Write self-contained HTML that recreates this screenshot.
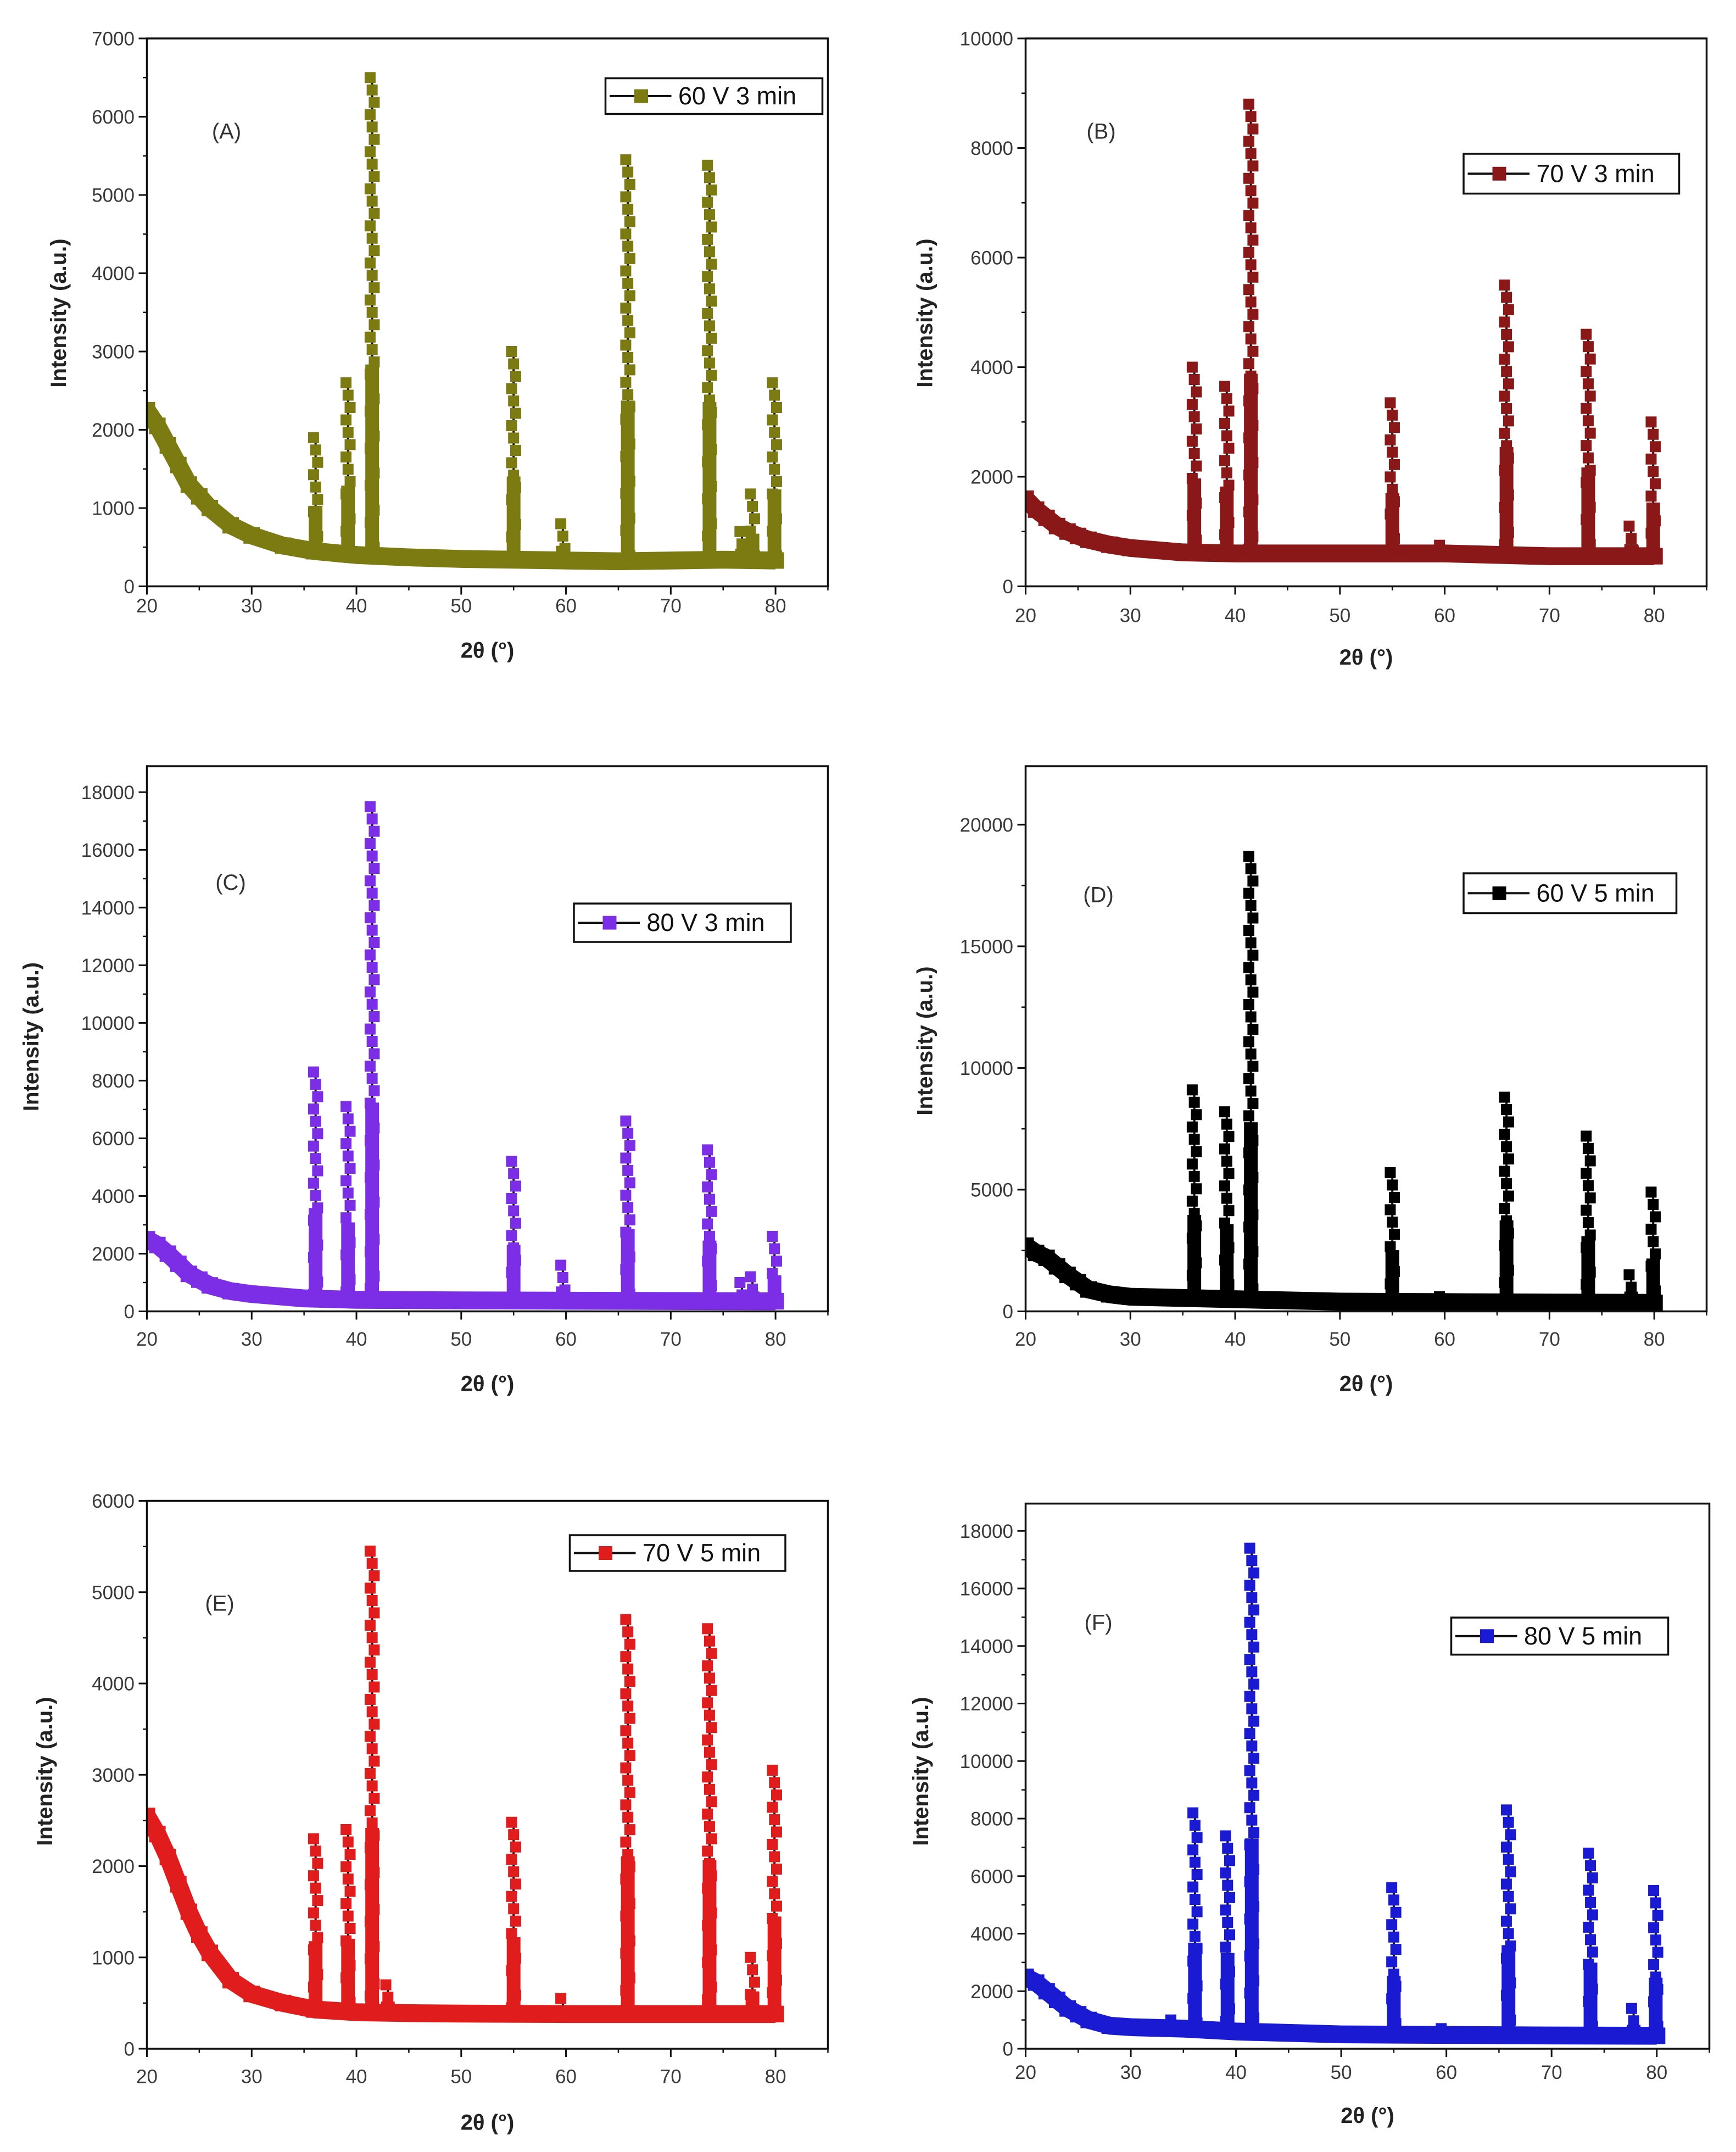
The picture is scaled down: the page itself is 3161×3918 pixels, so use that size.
<!DOCTYPE html>
<html><head><meta charset="utf-8">
<style>
html,body{margin:0;padding:0;background:#fff;}
svg{display:block;}
text{font-family:"Liberation Sans",Arial,sans-serif;}
</style></head>
<body>
<svg id="fig" width="3161" height="3918" viewBox="0 0 1264.4 1567.2" xmlns="http://www.w3.org/2000/svg"></svg>
<script>
// ===== Data (2θ in degrees, intensity in a.u.) =====
const panelIds = ["A","B","C","D","E","F"];
const legendLabels = ["60 V 3 min","70 V 3 min","80 V 3 min","60 V 5 min","70 V 5 min","80 V 5 min"];
const yTicksA = [0,1000,2000,3000,4000,5000,6000,7000];
const yTicksB = [0,2000,4000,6000,8000,10000];
const yTicksC = [0,2000,4000,6000,8000,10000,12000,14000,16000,18000];
const yTicksD = [0,5000,10000,15000,20000];
const yTicksE = [0,1000,2000,3000,4000,5000,6000];
const yTicksF = [0,2000,4000,6000,8000,10000,12000,14000,16000,18000];
const xTicks = [20,30,40,50,60,70,80];

const bgXA = [20,21,22,23,24,25,26,28,30,33,36,40,45,50,55,60,65,70,75,80];
const bgYA = [2250,2050,1800,1550,1300,1150,1000,780,650,520,450,400,370,350,340,330,320,330,340,330];
const pkXA = [36.1,39.2,41.5,55.0,59.7,65.9,73.7,76.8,77.8,79.9];
const pkYA = [1900,2600,6500,3000,800,5450,5380,700,1180,2600];

const bgXB = [20,21,22,23,24,25,26,28,30,35,40,50,60,70,80];
const bgYB = [1600,1400,1250,1100,1000,920,850,760,700,620,600,600,600,550,550];
const pkXB = [36.1,39.2,41.5,55.0,59.7,65.9,73.7,77.8,79.9];
const pkYB = [4000,3650,8800,3350,750,5500,4600,1100,3000];

const bgXC = [20,21,22,23,24,25,26,28,30,35,40,50,60,70,80];
const bgYC = [2500,2300,2000,1650,1300,1100,900,700,600,450,400,380,370,360,350];
const pkXC = [36.1,39.2,41.5,55.0,59.7,65.9,73.7,76.8,77.8,79.9];
const pkYC = [8300,7100,17500,5200,1600,6600,5600,1000,1200,2600];

const bgXD = [20,21,22,23,24,25,26,28,30,35,40,50,60,70,80];
const bgYD = [2700,2400,2200,1850,1500,1200,900,700,600,550,500,400,380,360,350];
const pkXD = [36.1,39.2,41.5,55.0,59.7,65.9,73.7,77.8,79.9];
const pkYD = [9100,8200,18700,5700,600,8800,7200,1500,4900];

const bgXE = [20,21,22,23,24,25,26,28,30,33,36,40,45,50,60,70,80];
const bgYE = [2550,2350,2100,1800,1500,1250,1050,750,600,500,430,400,390,385,380,380,380];
const pkXE = [36.1,39.2,41.5,43.0,55.0,59.7,65.9,73.7,77.8,79.9];
const pkYE = [2300,2400,5450,700,2480,550,4700,4600,1000,3050];

const bgXF = [20,21,22,23,24,25,26,28,30,35,40,50,60,70,80];
const bgYF = [2500,2300,2000,1700,1400,1200,1000,800,750,700,600,500,480,460,450];
const pkXF = [34.0,36.1,39.2,41.5,55.0,59.7,65.9,73.7,77.8,79.9];
const pkYF = [1000,8200,7400,17400,5600,700,8300,6800,1400,5500];

// ===== layout (display units, 1 unit = 2.5 px) =====
const layouts = [
 {x0:107,x1:603,y0:28,y1:427,ymax:7000,yT:yTicksA,minor:500,col:"#7b7b12",bgX:bgXA,bgY:bgYA,pkX:pkXA,pkY:pkYA,lab:[165,95],leg:[441,57,158,26],yl:[42,228],xt:441,xl:473},
 {x0:747,x1:1243,y0:28,y1:427,ymax:10000,yT:yTicksB,minor:1000,col:"#8b1818",bgX:bgXB,bgY:bgYB,pkX:pkXB,pkY:pkYB,lab:[802,95],leg:[1066,112,157,29],yl:[673,228],xt:448,xl:478},
 {x0:107,x1:603,y0:558,y1:955,ymax:18900,yT:yTicksC,minor:1000,col:"#7b2ee6",bgX:bgXC,bgY:bgYC,pkX:pkXC,pkY:pkYC,lab:[168,642],leg:[418,658,158,28],yl:[22,755],xt:975,xl:1007},
 {x0:747,x1:1243,y0:558,y1:955,ymax:22400,yT:yTicksD,minor:2500,col:"#000000",bgX:bgXD,bgY:bgYD,pkX:pkXD,pkY:pkYD,lab:[800,651],leg:[1066,636,155,29],yl:[673,758],xt:975,xl:1007},
 {x0:107,x1:603,y0:1093,y1:1492,ymax:6000,yT:yTicksE,minor:500,col:"#e11c1c",bgX:bgXE,bgY:bgYE,pkX:pkXE,pkY:pkYE,lab:[160,1167],leg:[415,1118,157,26],yl:[32,1290],xt:1512,xl:1545},
 {x0:747,x1:1245,y0:1095,y1:1492,ymax:18950,yT:yTicksF,minor:1000,col:"#1a1ad2",bgX:bgXF,bgY:bgYF,pkX:pkXF,pkY:pkYF,lab:[800,1181],leg:[1057,1178,158,27],yl:[670,1290],xt:1509,xl:1540}
];

const NS="http://www.w3.org/2000/svg";
const svg=document.getElementById("fig");
function mk(tag,attrs,parent){const e=document.createElementNS(NS,tag);for(const k in attrs)e.setAttribute(k,attrs[k]);(parent||svg).appendChild(e);return e;}

layouts.forEach((L,i)=>{
  const id=panelIds[i].toLowerCase();
  const g=mk("g",{});
  
  
  const sx=v=>L.x0+(v-20)/(85-20)*(L.x1-L.x0);
  const sy=v=>L.y1-v/L.ymax*(L.y1-L.y0);
  const cp=mk("clipPath",{id:"clip"+id},g);
  mk("rect",{x:L.x0,y:L.y0,width:L.x1-L.x0,height:L.y1-L.y0},cp);
  const plot=mk("g",{"clip-path":"url(#clip"+id+")"},g);
  
  
  const pts=L.bgX.map((x,k)=>sx(x)+","+sy(L.bgY[k])).join(" ");
  const bgl=mk("polyline",{points:pts,fill:"none",stroke:L.col,"stroke-width":13,"stroke-linejoin":"round"},plot);
  
  
  L.bgX.forEach((x,k)=>{
    const s=mk("rect",{x:sx(x)-6,y:sy(L.bgY[k])-6,width:12,height:12,fill:L.col},plot);
    
    
  });
  const base=x=>{for(let k=0;k<L.bgX.length-1;k++){if(x>=L.bgX[k]&&x<=L.bgX[k+1]){const t=(x-L.bgX[k])/(L.bgX[k+1]-L.bgX[k]);return L.bgY[k]+t*(L.bgY[k+1]-L.bgY[k]);}}return L.bgY[L.bgY.length-1];};
  L.pkX.forEach((px,k)=>{
    const X=sx(px), top=sy(L.pkY[k]), foot=sy(base(px));
    const pg=mk("g",{},plot);
    
    
    mk("rect",{x:X-7,y:foot-6,width:14,height:12,fill:L.col},pg);
    mk("line",{x1:X,y1:foot,x2:X,y2:top,stroke:"#111","stroke-width":1.6},pg);
    const h=foot-top;
    mk("rect",{x:X-5,y:foot-h*0.4,width:10,height:h*0.4,fill:L.col},pg);
    for(let yy=top,n=0;yy<foot;yy+=9,n++){const dx=(n%3-1)*1.5;mk("rect",{x:X-4+dx,y:yy-4,width:8,height:8,fill:L.col},pg);}
  });
  const fr=mk("rect",{x:L.x0,y:L.y0,width:L.x1-L.x0,height:L.y1-L.y0,fill:"none",stroke:"#111","stroke-width":1.4},g);
  
  
  const ya=mk("g",{},g);
  
  
  for(let v=0;v<=L.ymax;v+=L.minor){mk("line",{x1:L.x0-3,x2:L.x0,y1:sy(v),y2:sy(v),stroke:"#111","stroke-width":1},ya);}
  L.yT.forEach(v=>{
    mk("line",{x1:L.x0-6,x2:L.x0,y1:sy(v),y2:sy(v),stroke:"#111","stroke-width":1.2},ya);
    const t=mk("text",{x:L.x0-9,y:sy(v)+5,"text-anchor":"end","font-size":14,fill:"#3a3a3a"},ya);
    t.textContent=v;
  });
  const xa=mk("g",{},g);
  
  
  for(let v=20;v<=85;v+=5){mk("line",{x1:sx(v),x2:sx(v),y1:L.y1,y2:L.y1+3,stroke:"#111","stroke-width":1},xa);}
  xTicks.forEach(v=>{
    mk("line",{x1:sx(v),x2:sx(v),y1:L.y1,y2:L.y1+6,stroke:"#111","stroke-width":1.2},xa);
    const t=mk("text",{x:sx(v),y:L.xt+5,"text-anchor":"middle","font-size":14,fill:"#3a3a3a"},xa);
    t.textContent=v;
  });
  const xl=mk("text",{x:(L.x0+L.x1)/2,y:L.xl+6,"text-anchor":"middle","font-size":16,"font-weight":"bold",fill:"#222"},g);
  xl.textContent="2θ (°)";
  
  
  const yl=mk("text",{x:L.yl[0]+6,y:L.yl[1],"text-anchor":"middle","font-size":16,"font-weight":"bold",fill:"#222",transform:"rotate(-90 "+(L.yl[0]+6)+" "+L.yl[1]+")"},g);
  yl.textContent="Intensity (a.u.)";
  
  
  const pl=mk("text",{x:L.lab[0],y:L.lab[1]+6,"text-anchor":"middle","font-size":16,fill:"#333"},g);
  pl.textContent="("+panelIds[i]+")";
  
  
  const lg=mk("g",{},g);
  
  
  const [lx,ly,lw,lh]=L.leg;
  mk("rect",{x:lx,y:ly,width:lw,height:lh,fill:"#fff",stroke:"#111","stroke-width":1.4},lg);
  mk("line",{x1:lx+3,x2:lx+48,y1:ly+lh/2,y2:ly+lh/2,stroke:"#111","stroke-width":1.6},lg);
  mk("rect",{x:lx+21,y:ly+lh/2-5,width:10,height:10,fill:L.col},lg);
  const lt=mk("text",{x:lx+53,y:ly+lh/2+6,"font-size":18,fill:"#111"},lg);
  lt.textContent=legendLabels[i];
});
</script>
</body></html>
